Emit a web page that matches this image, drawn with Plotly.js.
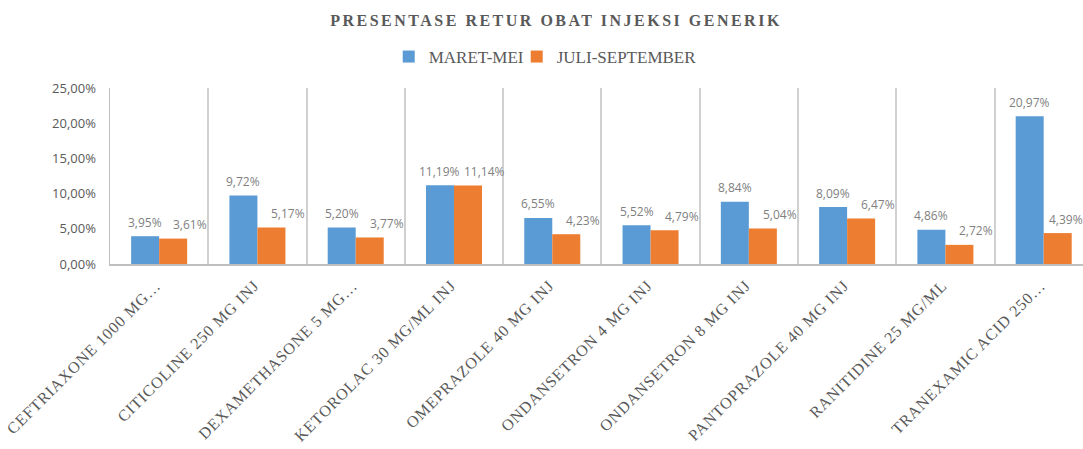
<!DOCTYPE html>
<html>
<head>
<meta charset="utf-8">
<script src="https://cdn.plot.ly/plotly-3.0.1.min.js"></script>
<style>
  html, body { margin: 0; padding: 0; background: #ffffff; }
  .gtitle { letter-spacing: 2.5px; }
  .xtick text { letter-spacing: 0.85px; }
  .legend .scrollbox { clip-path: none !important; }
</style>
</head>
<body>
<div id="chart" style="width:1083px;height:449px;"></div>
<script>
const categories = [
  "CEFTRIAXONE 1000 MG…",
  "CITICOLINE 250 MG INJ",
  "DEXAMETHASONE 5 MG…",
  "KETOROLAC 30 MG/ML INJ",
  "OMEPRAZOLE 40 MG INJ",
  "ONDANSETRON 4 MG INJ",
  "ONDANSETRON 8 MG INJ",
  "PANTOPRAZOLE 40 MG INJ",
  "RANITIDINE 25 MG/ML",
  "TRANEXAMIC ACID 250…"
];
const maretMei = [3.95, 9.72, 5.20, 11.19, 6.55, 5.52, 8.84, 8.09, 4.86, 20.97];
const juliSeptember = [3.61, 5.17, 3.77, 11.14, 4.23, 4.79, 5.04, 6.47, 2.72, 4.39];
const seriesNames = ["MARET-MEI", "JULI-SEPTEMBER"];
const yTickVals = [0, 5, 10, 15, 20, 25];

const BLUE = "#5B9BD5";
const ORANGE = "#ED7D31";

function fmt(v) { return v.toFixed(2).replace(".", ",") + "%"; }

const traces = [
  { type: "bar", name: seriesNames[0], x: categories, y: maretMei,
    marker: { color: BLUE }, hoverinfo: "skip" },
  { type: "bar", name: seriesNames[1], x: categories, y: juliSeptember,
    marker: { color: ORANGE }, hoverinfo: "skip" }
];

const labelFont = { family: "Open Sans", size: 12, color: "#7f7f7f" };
const annotations = [];
categories.forEach((c, i) => {
  const last = i === categories.length - 1;
  annotations.push({ x: c, y: maretMei[i], xref: "x", yref: "y", text: fmt(maretMei[i]),
    showarrow: false, xshift: -14, yshift: 14, font: labelFont });
  annotations.push({ x: c, y: juliSeptember[i], xref: "x", yref: "y", text: fmt(juliSeptember[i]),
    showarrow: false, xshift: last ? 22 : 31, yshift: 14, font: labelFont });
});

const layout = {
  width: 1083, height: 449,
  margin: { l: 110, r: 0, t: 88, b: 185, pad: 0 },
  paper_bgcolor: "#ffffff", plot_bgcolor: "#ffffff",
  separators: ",.",
  barmode: "group", bargap: 0.43, bargroupgap: 0,
  title: {
    text: "PRESENTASE RETUR OBAT INJEKSI GENERIK",
    x: 556 / 1083, xref: "container", xanchor: "center",
    y: 1 - 20 / 449, yref: "container", yanchor: "middle",
    font: { family: "Liberation Serif", size: 16, weight: "bold", color: "#595959" }
  },
  showlegend: true,
  legend: {
    orientation: "h", x: 0.418, xanchor: "center", xref: "paper",
    y: 1 - 57 / 449, yref: "container", yanchor: "middle",
    font: { family: "Liberation Serif", size: 17, color: "#595959" },
    itemwidth: 30, entrywidth: 83, traceorder: "normal"
  },
  xaxis: {
    type: "category", range: [-0.5, 9.4],
    tickson: "boundaries", ticks: "",
    showgrid: true, gridcolor: "#d0d0d0", gridwidth: 2,
    showline: true, linecolor: "#bfbfbf", linewidth: 2,
    tickangle: -45, automargin: false, ticklabelstandoff: 4, ticklabelshift: -3,
    tickfont: { family: "Liberation Serif", size: 16, color: "#595959" }
  },
  yaxis: {
    range: [0, 25], tickmode: "array", tickvals: yTickVals, ticktext: yTickVals.map(fmt),
    showgrid: false, zeroline: false,
    showline: true, linecolor: "#bfbfbf", linewidth: 1.5,
    ticks: "", ticklabelstandoff: 10, automargin: false,
    tickfont: { family: "Open Sans", size: 13, color: "#595959" }
  },
  annotations: annotations
};

Plotly.newPlot("chart", traces, layout, { displayModeBar: false, staticPlot: true });
</script>
</body>
</html>
